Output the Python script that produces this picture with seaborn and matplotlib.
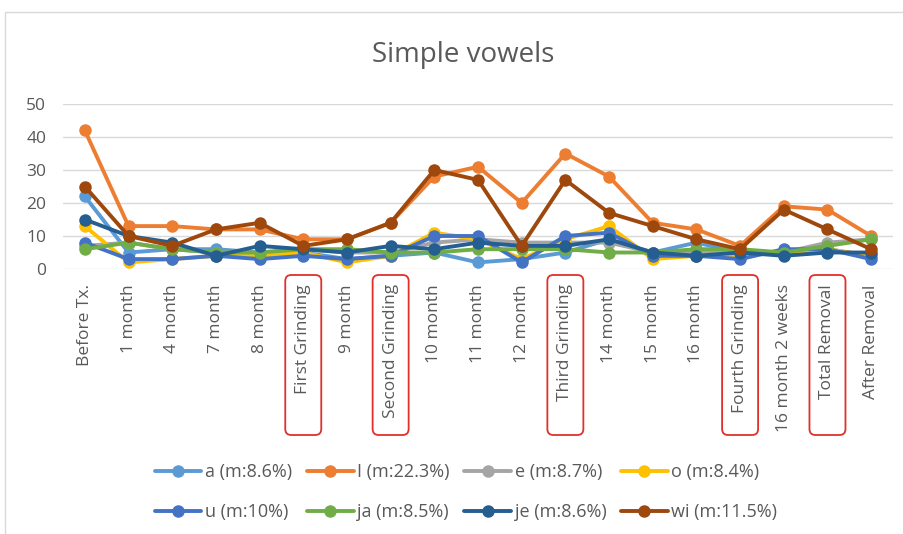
import pandas as pd
import matplotlib.pyplot as plt
import seaborn as sns
from matplotlib.lines import Line2D
from matplotlib.patches import FancyBboxPatch, Rectangle
from matplotlib.transforms import IdentityTransform

# ---- data ----
categories = ['Before Tx.', '1 month', '4 month', '7 month', '8 month', 'First Grinding',
              '9 month', 'Second Grinding', '10 month', '11 month', '12 month',
              'Third Grinding', '14 month', '15 month', '16 month', 'Fourth Grinding',
              '16 month 2 weeks', 'Total Removal', 'After Removal']
highlighted = ['First Grinding', 'Second Grinding', 'Third Grinding',
               'Fourth Grinding', 'Total Removal']

a  = [22, 5, 6, 6, 5, 5, 3, 4, 5, 2, 3, 5, 9, 5, 8, 5, 5, 6, 4]
I  = [42, 13, 13, 12, 12, 9, 9, 14, 28, 31, 20, 35, 28, 14, 12, 7, 19, 18, 10]
e  = [7, 8, 6, 5, 5, 6, 5, 5, 8, 9, 8, 8, 8, 5, 5, 5, 5, 8, 9]
o  = [13, 2, 3, 4, 4, 5, 2, 4, 11, 9, 3, 9, 13, 3, 4, 4, 5, 6, 4]
u  = [8, 3, 3, 4, 3, 4, 3, 4, 10, 10, 2, 10, 11, 4, 4, 3, 6, 6, 3]
ja = [6, 8, 6, 5, 5, 6, 6, 5, 5, 6, 6, 6, 5, 5, 6, 6, 5, 7, 9]
je = [15, 10, 8, 4, 7, 6, 5, 7, 6, 8, 7, 7, 9, 5, 4, 5, 4, 5, 5]
wi = [25, 10, 7, 12, 14, 7, 9, 14, 30, 27, 7, 27, 17, 13, 9, 6, 18, 12, 6]

series_labels = ['a (m:8.6%)', 'I (m:22.3%)', 'e (m:8.7%)', 'o (m:8.4%)',
                 'u (m:10%)', 'ja (m:8.5%)', 'je (m:8.6%)', 'wi (m:11.5%)']
series_values = [a, I, e, o, u, ja, je, wi]
colors = ['#5B9BD5', '#ED7D31', '#A5A5A5', '#FFC000',
          '#4472C4', '#70AD47', '#255E91', '#9E480E']

rows = []
for lab, vals in zip(series_labels, series_values):
    for cat, v in zip(categories, vals):
        rows.append({'Time': cat, 'Value': v, 'Series': lab})
df = pd.DataFrame(rows)

# ---- plotting ----
sns.set_theme(style="white")
plt.rcParams['font.family'] = ['Open Sans', 'DejaVu Sans']
text_color = '#595959'
lw, ms = 2.8, 9

fig = plt.figure(figsize=(9.04, 5.34), dpi=100)
ax = fig.add_axes([63 / 904, 1 - 269 / 534, 830 / 904, 165 / 534])

sns.lineplot(data=df, x='Time', y='Value', hue='Series', hue_order=series_labels,
             palette=dict(zip(series_labels, colors)), marker='o', markersize=ms,
             markeredgewidth=0, linewidth=lw, sort=False, legend=False, ax=ax)

ax.set_xlim(-0.5, len(categories) - 0.5)
ax.set_ylim(0, 50)
ax.set_yticks(range(0, 51, 10))
ax.grid(axis='y', color='#d9d9d9', linewidth=1)
ax.set_axisbelow(True)
for s in ax.spines.values():
    s.set_visible(False)
ax.set_xlabel('')
ax.set_ylabel('')
ax.tick_params(axis='both', length=0, colors=text_color, labelsize=12.5)
ax.tick_params(axis='y', pad=12)
ax.set_xticks(range(len(categories)))
ax.set_xticklabels(categories, rotation=90, va='top', ha='center')
ax.tick_params(axis='x', pad=11)

fig.text(463 / 904, 1 - 55 / 534, 'Simple vowels', ha='center', va='center',
         fontsize=20, color=text_color)

# red rounded boxes around the grinding / removal labels
H = 534
for cat in highlighted:
    xc = ax.transData.transform((categories.index(cat), 0))[0]
    box = FancyBboxPatch((xc - 18, H - 435), 36, 160,
                         boxstyle='round,pad=0,rounding_size=6',
                         transform=IdentityTransform(), fill=False,
                         edgecolor='#E0302A', linewidth=1.3, clip_on=False)
    fig.patches.append(box)

# chart border
fig.patches.append(Rectangle((5 / 904, -0.02), 1.0, 1 - 12 / 534 + 0.02,
                             transform=fig.transFigure, fill=False,
                             edgecolor='#d9d9d9', linewidth=1))

# legend filled row by row like the original (matplotlib fills column-major)
order = [0, 4, 1, 5, 2, 6, 3, 7]
handles = [Line2D([], [], color=colors[i], marker='o', markersize=ms,
                  markeredgewidth=0, linewidth=lw) for i in order]
labels = [series_labels[i] for i in order]
fig.legend(handles, labels, ncol=4, loc='center', frameon=False,
           bbox_to_anchor=(466 / 904, 1 - 492 / 534), fontsize=13,
           labelcolor=text_color, handlelength=2.6, handletextpad=0.2,
           columnspacing=0.8, labelspacing=1.2)

fig.savefig('out.png', dpi=100)
